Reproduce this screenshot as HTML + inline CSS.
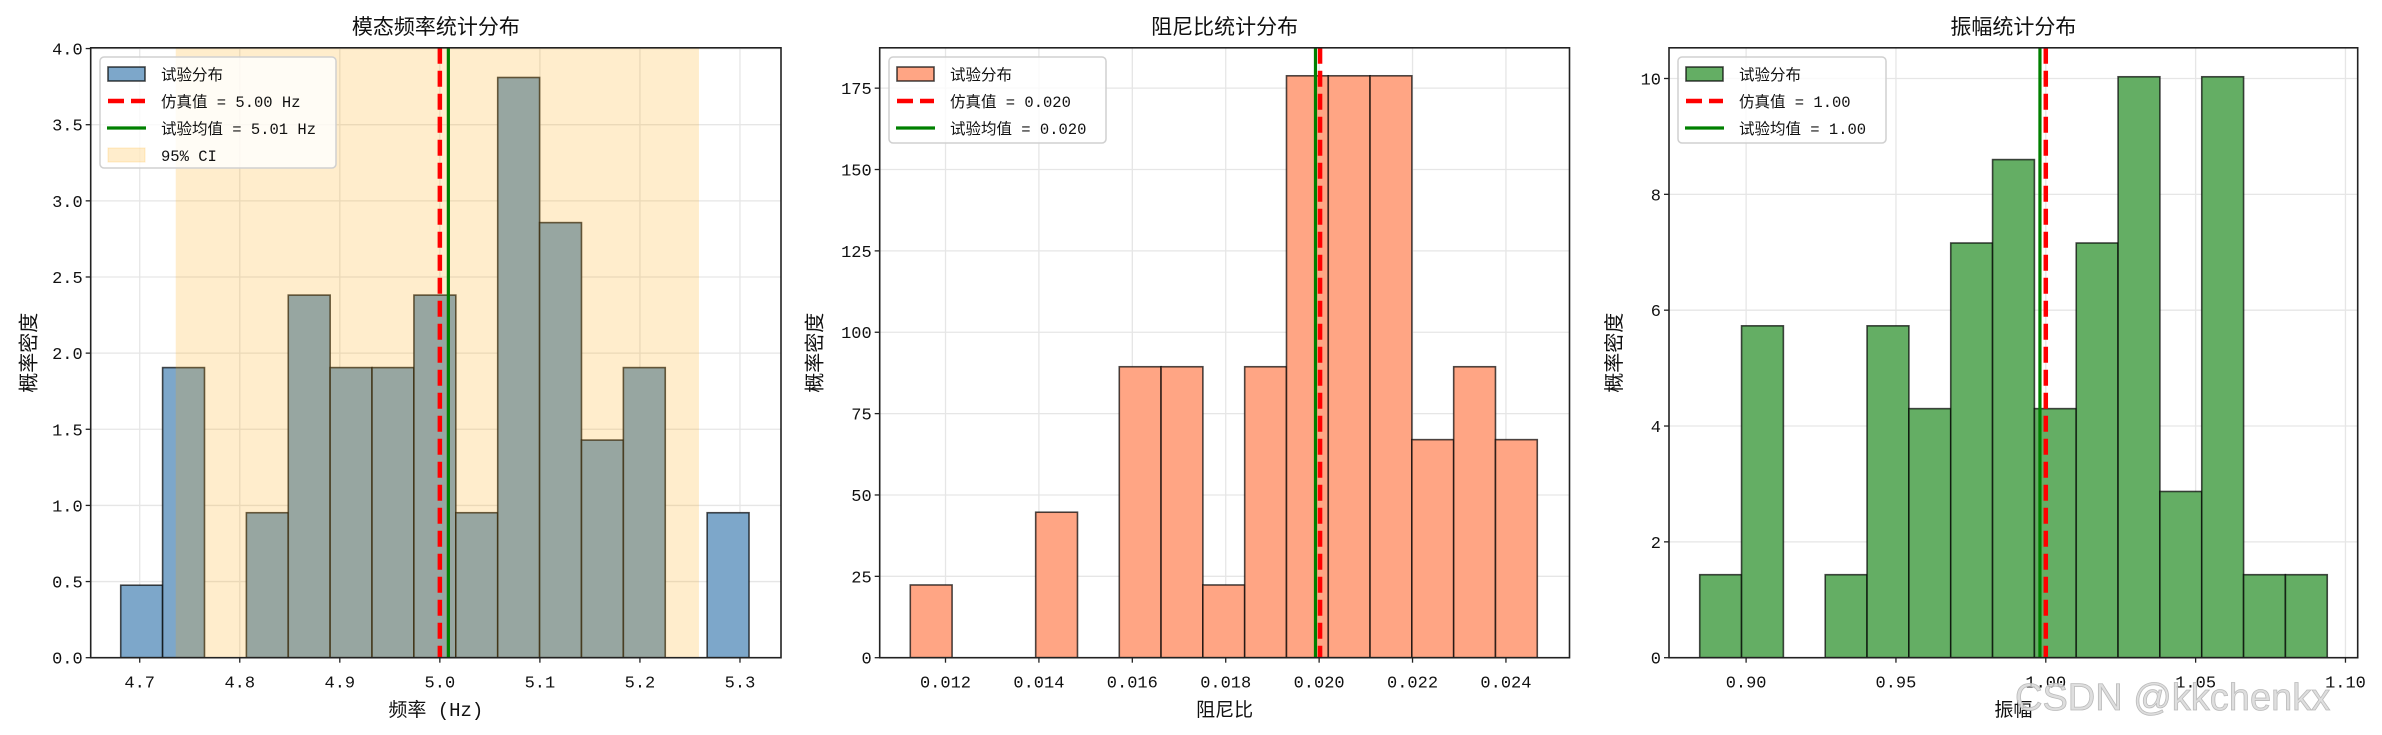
<!DOCTYPE html>
<html><head><meta charset="utf-8"><style>
html,body{margin:0;padding:0;background:#fff;}
svg{display:block;font-family:"Liberation Sans","Noto Sans CJK SC","WenQuanYi Zen Hei",sans-serif;}
.mono{font-family:"Liberation Mono","Noto Sans CJK SC",monospace;}
</style></head><body>
<svg id="fig" width="2382" height="735" viewBox="0 0 2382 735" xmlns="http://www.w3.org/2000/svg"></svg>
<script>
// Panel 1: modal frequency
const freqEdgeStart = 4.681, freqBinWidth = 0.04187;
const freqDensity = [0.476,1.905,0,0.952,2.381,1.905,1.905,2.381,0.952,3.810,2.857,1.429,1.905,0,0.952];
const freqXTicks = [4.7,4.8,4.9,5.0,5.1,5.2,5.3];
const freqXTickLabels = ["4.7","4.8","4.9","5.0","5.1","5.2","5.3"];
const freqYTicks = [0,0.5,1,1.5,2,2.5,3,3.5,4];
const freqYTickLabels = ["0.0","0.5","1.0","1.5","2.0","2.5","3.0","3.5","4.0"];
const freqSim = 5.00, freqMean = 5.0085, freqCI = [4.736, 5.259];
// Panel 2: damping ratio
const dampEdgeStart = 0.011246, dampBinWidth = 0.000895;
const dampDensity = [22.35,0,0,44.7,0,89.4,89.4,22.35,89.4,178.8,178.8,178.8,67.0,89.4,67.0];
const dampXTicks = [0.012,0.014,0.016,0.018,0.020,0.022,0.024];
const dampXTickLabels = ["0.012","0.014","0.016","0.018","0.020","0.022","0.024"];
const dampYTicks = [0,25,50,75,100,125,150,175];
const dampYTickLabels = ["0","25","50","75","100","125","150","175"];
const dampSim = 0.02002, dampMean = 0.019922;
// Panel 3: amplitude
const ampEdgeStart = 0.88452, ampBinWidth = 0.01396;
const ampDensity = [1.433,5.73,0,1.433,5.73,4.30,7.16,8.60,4.30,7.16,10.03,2.87,10.03,1.433,1.433];
const ampXTicks = [0.90,0.95,1.00,1.05,1.10];
const ampXTickLabels = ["0.90","0.95","1.00","1.05","1.10"];
const ampYTicks = [0,2,4,6,8,10];
const ampYTickLabels = ["0","2","4","6","8","10"];
const ampSim = 1.0000, ampMean = 0.99805;

const NS = "http://www.w3.org/2000/svg";
const fig = document.getElementById('fig');
function mk(tag, attrs, parent){const e=document.createElementNS(NS,tag);for(const k in attrs)e.setAttribute(k,attrs[k]);(parent||fig).appendChild(e);return e;}

const panels = [
 {name:'frequency', L:90.7, R:781, T:47.8, B:657.7, xmin:4.651, xmax:5.341, ymin:0, ymax:4.005,
  start:freqEdgeStart, w:freqBinWidth, dens:freqDensity, xt:freqXTicks, xl:freqXTickLabels, yt:freqYTicks, yl:freqYTickLabels,
  sim:freqSim, mean:freqMean, ci:freqCI, fill:'rgb(125,167,202)', title:'模态频率统计分布', xlabel:'频率 (Hz)',
  legend:['试验分布','仿真值 = 5.00 Hz','试验均值 = 5.01 Hz','95% CI'], lg:{x:100,y:57,w:236,h:111}},
 {name:'damping', L:879.7, R:1569.5, T:47.8, B:657.7, xmin:0.010591, xmax:0.025361, ymin:0, ymax:187.4,
  start:dampEdgeStart, w:dampBinWidth, dens:dampDensity, xt:dampXTicks, xl:dampXTickLabels, yt:dampYTicks, yl:dampYTickLabels,
  sim:dampSim, mean:dampMean, ci:null, fill:'rgb(255,165,132)', title:'阻尼比统计分布', xlabel:'阻尼比',
  legend:['试验分布','仿真值 = 0.020','试验均值 = 0.020'], lg:{x:889,y:57,w:217,h:86}},
 {name:'amplitude', L:1669, R:2357.7, T:47.8, B:657.7, xmin:0.87427, xmax:1.10408, ymin:0, ymax:10.53,
  start:ampEdgeStart, w:ampBinWidth, dens:ampDensity, xt:ampXTicks, xl:ampXTickLabels, yt:ampYTicks, yl:ampYTickLabels,
  sim:ampSim, mean:ampMean, ci:null, fill:'rgb(100,174,100)', title:'振幅统计分布', xlabel:'振幅',
  legend:['试验分布','仿真值 = 1.00','试验均值 = 1.00'], lg:{x:1678,y:57,w:208,h:86}}
];

panels.forEach(p=>{
  const sx = v => p.L + (v-p.xmin)/(p.xmax-p.xmin)*(p.R-p.L);
  const sy = v => p.B - (v-p.ymin)/(p.ymax-p.ymin)*(p.B-p.T);
  const g = mk('g',{});
  
  
  p.xt.forEach(v=>{const l=mk('line',{x1:sx(v),x2:sx(v),y1:p.T,y2:p.B,stroke:'#e6e6e6','stroke-width':1.3},g);
    });
  p.yt.forEach(v=>{const l=mk('line',{x1:p.L,x2:p.R,y1:sy(v),y2:sy(v),stroke:'#e6e6e6','stroke-width':1.3},g);
    });
  p.dens.forEach((d,i)=>{ if(d<=0) return;
    const x0=sx(p.start+i*p.w), x1=sx(p.start+(i+1)*p.w);
    const r=mk('rect',{x:x0,y:sy(d),width:x1-x0,height:sy(0)-sy(d),fill:p.fill,stroke:'rgba(0,0,0,0.7)','stroke-width':1.6},g);
    
    
  });
  if(p.ci){
    const r=mk('rect',{x:sx(p.ci[0]),y:p.T,width:sx(p.ci[1])-sx(p.ci[0]),height:p.B-p.T,fill:'rgb(255,165,0)','fill-opacity':0.2},g);
    
    
  }
  const red=mk('line',{x1:sx(p.sim),x2:sx(p.sim),y1:p.T,y2:p.B,stroke:'#ff0000','stroke-width':4.5,'stroke-dasharray':'16 7'},g);
  
  
  const gr=mk('line',{x1:sx(p.mean),x2:sx(p.mean),y1:p.T,y2:p.B,stroke:'#008000','stroke-width':3.2},g);
  
  
  const fr=mk('rect',{x:p.L,y:p.T,width:p.R-p.L,height:p.B-p.T,fill:'none',stroke:'#222','stroke-width':1.6},g);
  
  
  p.xt.forEach((v,i)=>{mk('line',{x1:sx(v),x2:sx(v),y1:p.B,y2:p.B+5,stroke:'#222','stroke-width':1.3},g);
    const t=mk('text',{x:sx(v),y:p.B+30,'text-anchor':'middle','font-size':17,fill:'#111',class:'mono'},g);t.textContent=p.xl[i];
    });
  p.yt.forEach((v,i)=>{mk('line',{x1:p.L-5,x2:p.L,y1:sy(v),y2:sy(v),stroke:'#222','stroke-width':1.3},g);
    const t=mk('text',{x:p.L-8,y:sy(v)+6,'text-anchor':'end','font-size':17,fill:'#111',class:'mono'},g);t.textContent=p.yl[i];
    });
  const tt=mk('text',{x:(p.L+p.R)/2,y:34,'text-anchor':'middle','font-size':21,fill:'#111'},g);tt.textContent=p.title;
  
  const xl=mk('text',{x:(p.L+p.R)/2,y:716,'text-anchor':'middle','font-size':19,fill:'#111',class:'mono'},g);xl.textContent=p.xlabel;
  
  const ylx=p.L-(p.name==='damping'?58:(p.name==='amplitude'?48:55)), yly=(p.T+p.B)/2;
  const yl=mk('text',{x:ylx,y:yly,'text-anchor':'middle','font-size':20,fill:'#111',transform:`rotate(-90 ${ylx} ${yly})`},g);yl.textContent='概率密度';
  
  const lg=p.lg;
  const lb=mk('rect',{x:lg.x,y:lg.y,width:lg.w,height:lg.h,rx:4,fill:'rgba(255,255,255,0.8)',stroke:'#d0d0d0','stroke-width':1.5},g);
  
  p.legend.forEach((s,i)=>{
    const cy=lg.y+17+i*27;
    if(i===0){mk('rect',{x:lg.x+8,y:cy-7,width:37,height:14,fill:p.fill,stroke:'rgba(0,0,0,0.7)','stroke-width':1.6},g);}
    else if(i===1){mk('line',{x1:lg.x+8,x2:lg.x+45,y1:cy,y2:cy,stroke:'#ff0000','stroke-width':4.5,'stroke-dasharray':'16 7'},g);}
    else if(i===2){mk('line',{x1:lg.x+7,x2:lg.x+46,y1:cy,y2:cy,stroke:'#008000','stroke-width':3.2},g);}
    else {mk('rect',{x:lg.x+8,y:cy-7,width:37,height:14,fill:'rgb(255,165,0)','fill-opacity':0.2,stroke:'rgb(255,165,0)','stroke-opacity':0.2},g);}
    const t=mk('text',{x:lg.x+61,y:cy+6,'font-size':15.5,fill:'#111',class:'mono'},g);t.textContent=s;
    
  });
});
const wm=mk('text',{x:2015,y:710,'font-size':38,fill:'#d8d8d8','fill-opacity':0.85,stroke:'#bbb','stroke-width':0.8});
wm.textContent='CSDN @kkchenkx';


</script>
</body></html>
